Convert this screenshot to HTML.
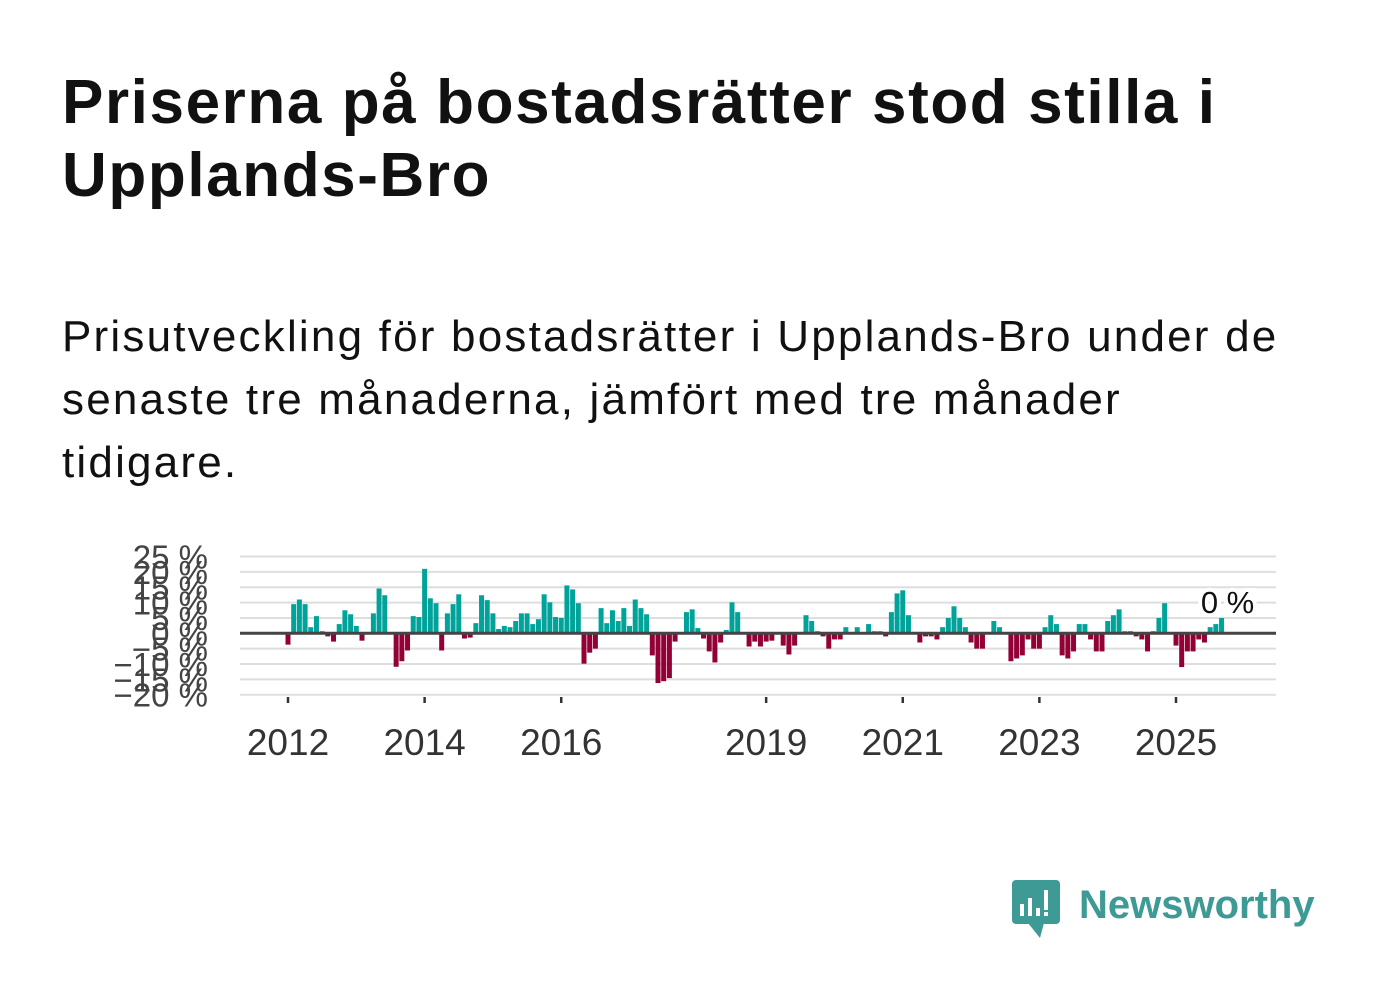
<!DOCTYPE html>
<html><head><meta charset="utf-8">
<style>
html,body{margin:0;padding:0;background:#fff;width:1382px;height:999px;overflow:hidden}
body{font-family:"Liberation Sans",sans-serif;color:#111}
#title{position:absolute;left:62px;top:66px;width:1300px;font-size:62px;font-weight:bold;line-height:73px;margin:0;color:#111;letter-spacing:1.6px}
#sub{position:absolute;left:62px;top:305px;width:1300px;font-size:44px;line-height:63px;margin:0;color:#111;letter-spacing:2.2px}
svg{position:absolute;left:0;top:0}
</style></head><body>
<h1 id="title">Priserna på bostadsrätter stod stilla i<br>Upplands-Bro</h1>
<p id="sub">Prisutveckling för bostadsrätter i Upplands-Bro under de<br>senaste tre månaderna, jämfört med tre månader<br>tidigare.</p>
<svg id="chart" width="1382" height="999"></svg>
<script>
const values=[-3.7,9.5,11,9.5,2,5.6,0.7,-1,-2.7,3,7.5,6.2,2.4,-2.4,0,6.5,14.6,12.4,0,-10.9,-9.1,-5.6,5.6,5.3,
21,11.4,9.8,-5.6,6.5,9.5,12.7,-1.7,-1.4,3.3,12.4,10.8,6.5,1.4,2.4,2,4,6.5,6.5,3,4.6,12.7,10.1,5.3,
5,15.6,14.3,9.8,-9.9,-6.3,-5,8.2,3.3,7.5,4,8.2,2.4,11,8.2,6.2,-7.2,-16.2,-15.6,-14.6,-2.7,0,6.9,7.8,
1.7,-1.7,-5.9,-9.5,-3,1.1,10.1,6.9,0,-4.3,-2.7,-4.3,-2.7,-2.4,0,-4,-6.9,-4,0,5.9,4,0.7,-1,-5,-2,-2,
2,0,2,0,3,0.7,0.7,-1,6.9,13,14,5.9,0,-3,-1,-1,-2,2,5,8.8,5,2,-3,-5,-5,0,4,2,0,-9.1,-8.2,-7.2,-2,-5,
-5,2,5.9,3,-7.2,-8.2,-5.9,3,3,-2,-5.9,-5.9,4,5.9,7.8,0.7,0.7,-1,-2,-5.9,0.7,5,9.8,0,
-4,-11,-5.9,-5.9,-2,-3,2,3,5];
const yTicks=[25,20,15,10,5,0,-5,-10,-15,-20];
const yLabels=["25 %","20 %","15 %","10 %","5 %","0 %","−5 %","−10 %","−15 %","−20 %"];
const xYears=[2012,2014,2016,2019,2021,2023,2025];
const startYear=2012;
const lastLabel="0 %";

const NS="http://www.w3.org/2000/svg";
const svg=document.getElementById('chart');
const X0=240,X1=1276,Y0=633.3,PPU=3.07;
const monthX=m=>288+m*(1176-288)/156;
const y=v=>Y0-v*PPU;
function mk(t,a){const e=document.createElementNS(NS,t);for(const k in a)e.setAttribute(k,a[k]);svg.appendChild(e);return e;}
yTicks.forEach((v,i)=>{
  if(v!==0){const g=mk('line',{x1:X0,x2:X1,y1:y(v),y2:y(v),stroke:'#dedede','stroke-width':2});
  
  }
  const t=mk('text',{x:208,y:y(v)+12,'text-anchor':'end','font-size':33,fill:'#444','font-family':'Liberation Sans, sans-serif'});
  t.textContent=yLabels[i];
  
  
});
const ax=mk('line',{x1:X0,x2:X1,y1:695,y2:695,stroke:'#e4e4e4','stroke-width':1.5});


values.forEach((v,i)=>{
  const cx=monthX(i);
  const top=v>=0?y(v):Y0, h=Math.abs(v)*PPU;
  if(h<=0)return;
  const r=mk('rect',{x:cx-2.5,y:top,width:5,height:h,fill:v>=0?'#00a39a':'#930035'});
  
  
});
const z=mk('line',{x1:X0,x2:X1,y1:Y0,y2:Y0,stroke:'#444','stroke-width':3});


xYears.forEach(yr=>{
  const x=monthX((yr-startYear)*12);
  const tk=mk('line',{x1:x,x2:x,y1:697,y2:703,stroke:'#333','stroke-width':2.5});
  
  
  const t=mk('text',{x:x,y:755,'text-anchor':'middle','font-size':37,fill:'#333','font-family':'Liberation Sans, sans-serif'});
  t.textContent=yr;
  
  
});
const lastX=monthX(values.length-1);
const ll=mk('text',{x:lastX+6,y:613,'text-anchor':'middle','font-size':31,fill:'#111','font-family':'Liberation Sans, sans-serif',stroke:'#fff','stroke-width':8,'paint-order':'stroke'});
ll.textContent=lastLabel;


</script>
<svg width="1382" height="999" style="pointer-events:none">
  <rect x="1012" y="880" width="48" height="44" rx="4" fill="#3d9a94"/>
  <polygon points="1028,923 1044,923 1040,938" fill="#3d9a94"/>
  <rect x="1020" y="904" width="4" height="12" fill="#fff"/>
  <rect x="1028" y="898" width="4" height="18" fill="#fff"/>
  <rect x="1036" y="908" width="4" height="8" fill="#fff"/>
  <rect x="1044" y="890" width="4" height="20" fill="#fff"/>
  <rect x="1044" y="912" width="4" height="4" fill="#fff"/>
  <text x="1079" y="918" font-size="40" font-weight="bold" fill="#3d9a94" font-family="Liberation Sans, sans-serif">Newsworthy</text>
</svg>
</body></html>
